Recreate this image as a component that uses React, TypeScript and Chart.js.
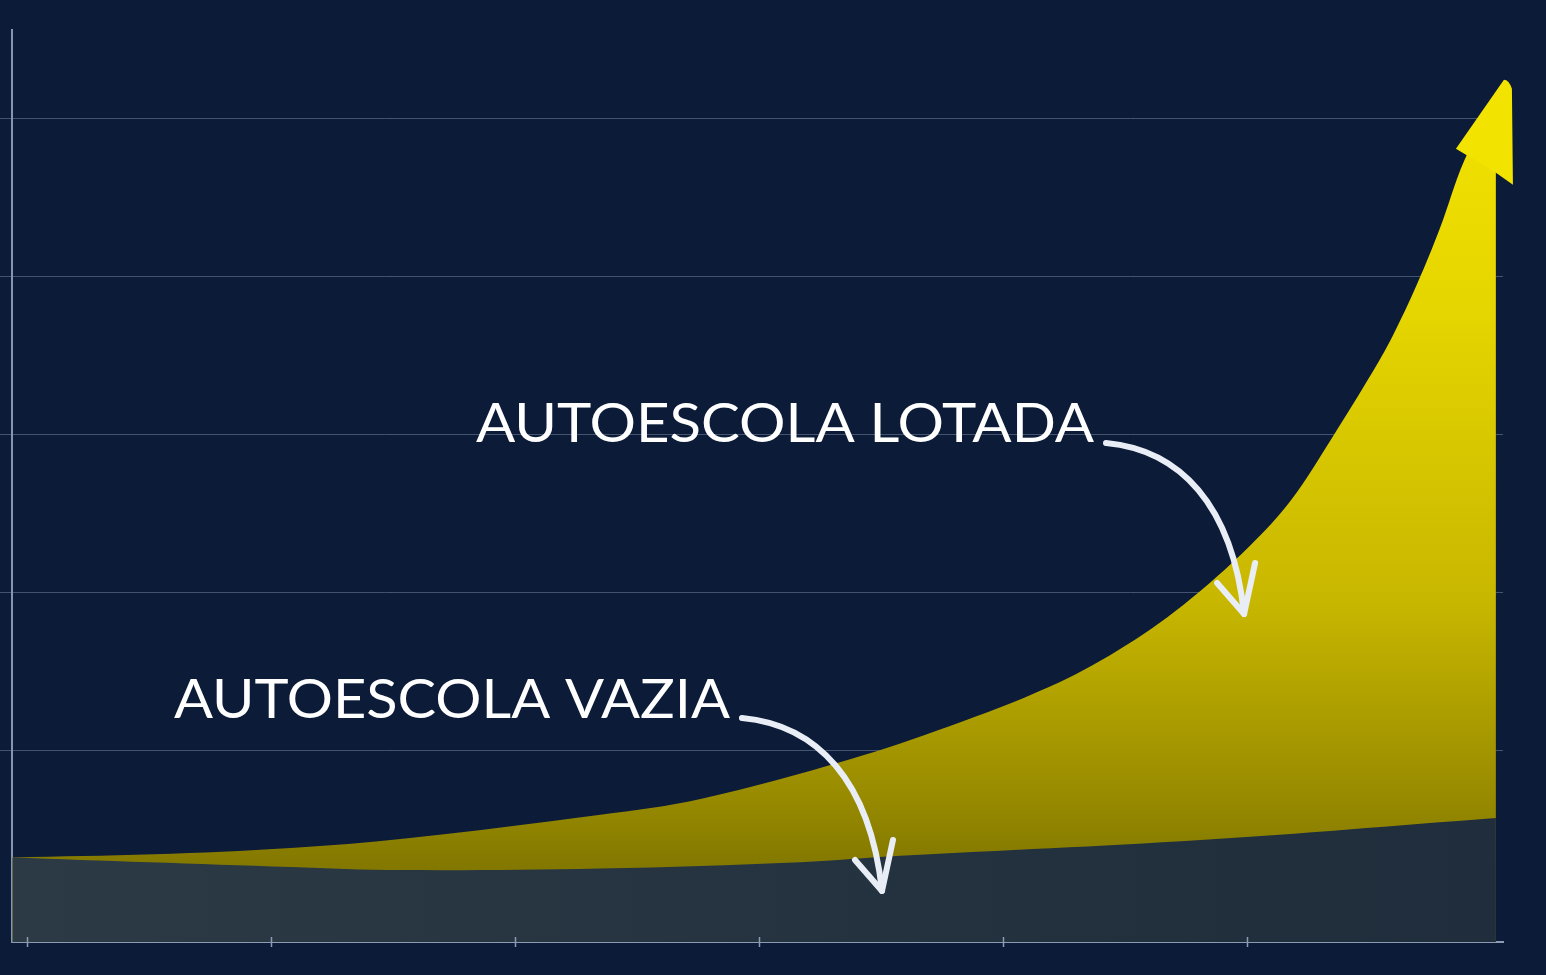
import { useEffect, useRef } from 'react'
import { Chart, registerables } from 'chart.js'

// Registrar componentes do Chart.js
Chart.register(...registerables)

// Curva de cima: autoescola lotada
const lotadaX = [-0.06, 0.52, 1.08, 1.55, 2.35, 2.76, 3.37, 3.78, 4.19, 4.47, 4.74, 5.01, 5.18, 5.35, 5.49, 5.59, 5.7, 5.79, 5.89, 6.02]
const lotadaY = [0.32, 0.34, 0.38, 0.44, 0.59, 0.69, 0.94, 1.15, 1.4, 1.63, 1.92, 2.29, 2.58, 2.98, 3.33, 3.6, 3.96, 4.3, 4.73, 5.11]

// Curva de baixo: autoescola vazia
const vaziaX = [-0.06, 0.5, 1.08, 1.53, 2.35, 3.17, 3.58, 4.81, 6.02]
const vaziaY = [0.32, 0.29, 0.26, 0.24, 0.25, 0.29, 0.33, 0.43, 0.57]

// Marcas dos eixos
const xTicks = [0, 1, 2, 3, 4, 5]
const yTicks = [1, 2, 3, 4, 5]

// Textos e setas (em coordenadas do gráfico)
const notas = [
  { texto: 'AUTOESCOLA LOTADA', x: 1.84, y: 2.95, fim: 4.373, seta: [4.422, 2.943, 4.988, 1.861] },
  { texto: 'AUTOESCOLA VAZIA', x: 0.602, y: 1.203, fim: 2.881, seta: [2.93, 1.203, 3.504, 0.108] },
]

const FUNDO = '#0b1b38'

const decoracoes = {
  id: 'decoracoes',
  afterDatasetsDraw(chart: any) {
    const ctx = chart.ctx
    const xs = chart.scales.x
    const ys = chart.scales.y

    // ponta da seta amarela no fim da curva
    const meta = chart.getDatasetMeta(1)
    const last = meta.data[meta.data.length - 1]
    ctx.save()
    ctx.fillStyle = '#f3e300'
    ctx.beginPath()
    ctx.moveTo(last.x - 40, last.y + 48)
    ctx.lineTo(last.x + 8, last.y - 21)
    ctx.quadraticCurveTo(last.x + 13, last.y - 21, last.x + 16, last.y - 12)
    ctx.lineTo(last.x + 17, last.y + 84)
    ctx.lineTo(last.x, last.y + 72)
    ctx.closePath()
    ctx.fill()
    ctx.restore()

    // marcas do eixo x (cruzando a linha)
    ctx.save()
    ctx.strokeStyle = '#8c9bb3'
    ctx.lineWidth = 1.5
    for (const t of xTicks) {
      const px = Math.round(xs.getPixelForValue(t)) + 0.5
      ctx.beginPath()
      ctx.moveTo(px, chart.chartArea.bottom - 5)
      ctx.lineTo(px, chart.chartArea.bottom + 5)
      ctx.stroke()
    }
    ctx.restore()

    for (const n of notas) {
      // texto
      const left = xs.getPixelForValue(n.x)
      const base = ys.getPixelForValue(n.y)
      const alvo = xs.getPixelForValue(n.fim) - left
      ctx.save()
      ctx.font = '400 55px Lato'
      ctx.fillStyle = '#ffffff'
      ctx.textBaseline = 'alphabetic'
      const w = ctx.measureText(n.texto).width
      ctx.translate(left, base)
      ctx.scale(alvo / w, 1)
      ctx.fillText(n.texto, 0, 0)
      ctx.restore()

      // seta curva
      const sx = xs.getPixelForValue(n.seta[0])
      const sy = ys.getPixelForValue(n.seta[1])
      const tx = xs.getPixelForValue(n.seta[2])
      const ty = ys.getPixelForValue(n.seta[3])
      const dx = tx - sx
      const dy = ty - sy
      ctx.save()
      ctx.strokeStyle = '#e9eef6'
      ctx.lineWidth = 6
      ctx.lineCap = 'round'
      ctx.lineJoin = 'round'
      ctx.beginPath()
      ctx.moveTo(sx, sy)
      ctx.bezierCurveTo(sx + 0.536 * dx, sy + 0.04 * dy, sx + 0.913 * dx, sy + 0.36 * dy, tx, ty)
      ctx.stroke()
      ctx.beginPath()
      ctx.moveTo(tx - 27, ty - 31)
      ctx.lineTo(tx, ty)
      ctx.lineTo(tx + 11, ty - 51)
      ctx.stroke()
      ctx.restore()
    }
  },
}

function gradienteAmarelo(context: any) {
  const { chart } = context
  const { ctx, chartArea } = chart
  if (!chartArea) return '#d6c300'
  const g = ctx.createLinearGradient(0, 80, 0, 870)
  g.addColorStop(0, '#f3e300')
  g.addColorStop(0.28, '#e6d600')
  g.addColorStop(0.66, '#c8b700')
  g.addColorStop(0.91, '#978a00')
  g.addColorStop(1, '#827700')
  return g
}

function gradienteCinza(context: any) {
  const { chart } = context
  const { ctx, chartArea } = chart
  if (!chartArea) return '#24333f'
  const g = ctx.createLinearGradient(chartArea.left, 0, chartArea.right, 0)
  g.addColorStop(0, '#2b3a44')
  g.addColorStop(1, '#1f2d3c')
  return g
}

export function AreaChart() {
  const chartRef = useRef<HTMLCanvasElement>(null)
  const chartInstance = useRef<Chart | null>(null)

  useEffect(() => {
    if (!chartRef.current) return
    if (chartInstance.current) chartInstance.current.destroy()

    const ctx = chartRef.current.getContext('2d')
    if (!ctx) return

    chartInstance.current = new Chart(ctx, {
      type: 'line',
      data: {
        datasets: [
          {
            label: 'Autoescola vazia',
            data: vaziaX.map((x, i) => ({ x, y: vaziaY[i] })),
            backgroundColor: gradienteCinza,
            borderWidth: 0,
            pointRadius: 0,
            fill: 'start',
            tension: 0.35,
          },
          {
            label: 'Autoescola lotada',
            data: lotadaX.map((x, i) => ({ x, y: lotadaY[i] })),
            backgroundColor: gradienteAmarelo,
            borderWidth: 0,
            pointRadius: 0,
            fill: 'start',
            tension: 0.35,
          },
        ],
      },
      options: {
        responsive: false,
        animation: false,
        layout: { padding: { top: 30, right: 43, bottom: 27, left: 0 } },
        plugins: {
          legend: { display: false },
          tooltip: { enabled: false },
        },
        scales: {
          x: {
            type: 'linear',
            min: -0.0615,
            max: 6.049,
            afterBuildTicks: (axis: any) => {
              axis.ticks = xTicks.map((v) => ({ value: v }))
            },
            ticks: { display: false },
            grid: { drawOnChartArea: false, tickLength: 6, color: 'rgba(0,0,0,0)' },
            border: { color: '#8c9bb3', width: 2 },
          },
          y: {
            min: -0.2152,
            max: 5.557,
            afterBuildTicks: (axis: any) => {
              axis.ticks = yTicks.map((v) => ({ value: v }))
            },
            ticks: { display: false },
            grid: { color: '#44546f', lineWidth: 1, tickLength: 12 },
            border: { color: '#8796ae', width: 2 },
          },
        },
      },
      plugins: [decoracoes],
    })

    return () => {
      if (chartInstance.current) {
        chartInstance.current.destroy()
        chartInstance.current = null
      }
    }
  }, [])

  return <canvas ref={chartRef} width={1546} height={975} style={{ display: 'block' }} />
}

export default function App() {
  return (
    <div style={{ position: 'fixed', left: 0, top: 0, width: 1546, height: 975, background: FUNDO }}>
      <AreaChart />
    </div>
  )
}
